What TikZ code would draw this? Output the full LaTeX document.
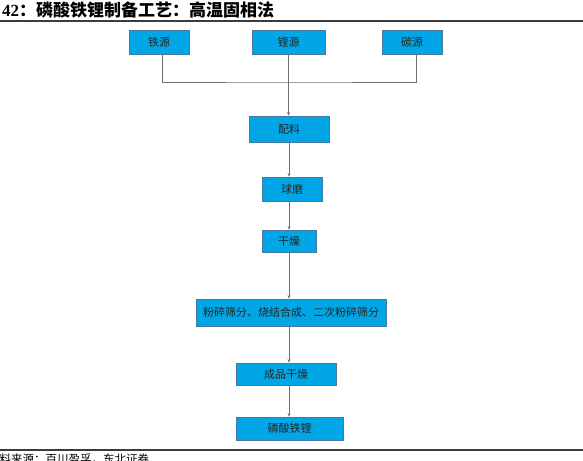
\documentclass[tikz,border=0pt]{standalone}
\usepackage{fontspec}
\setmainfont{Liberation Serif}
\newfontfamily\cjk{Noto Sans CJK SC}
\usetikzlibrary{arrows.meta,calc}
\definecolor{boxfill}{RGB}{0,166,230}
\definecolor{boxline}{RGB}{70,120,160}
\definecolor{conn}{RGB}{110,110,110}
\definecolor{rule}{RGB}{60,60,60}
\tikzset{
  x=1pt,y=-1pt,
  flowbox/.style={draw=boxline,line width=0.8pt,fill=boxfill,inner sep=0pt,
    font=\cjk\fontsize{11}{13}\selectfont,text=black!85},
  conline/.style={draw=conn,line width=0.9pt},
  arr/.style={conline,-{Stealth[length=3.5pt,width=3pt]}},
}
\begin{document}
\begin{tikzpicture}
\useasboundingbox (0,0) rectangle (583,460);
\clip (0,0) rectangle (583,460);
% title and rules
\node[anchor=west,inner sep=0pt] (title) at (2,10)
  {\bfseries\fontsize{17}{19}\selectfont 42{\cjk\bfseries ：磷酸铁锂制备工艺：高温固相法}};
\draw[rule,line width=1.1pt] (0,21) coordinate (r1a) -- (583,21) coordinate (r1b);
\draw[rule,line width=1.1pt] (0,450) coordinate (r2a) -- (583,450) coordinate (r2b);
\node[anchor=north west,inner sep=0pt,font=\cjk\fontsize{11.5}{13}\selectfont] (src) at (-12,454) {资料来源：百川盈孚，东北证券};
% boxes
\node[flowbox,minimum width=60,minimum height=24] (fe) at (159,42) {铁源};
\node[flowbox,minimum width=73,minimum height=24] (li) at (288.5,42) {锂源};
\node[flowbox,minimum width=60,minimum height=24] (c) at (412,42) {碳源};
\node[flowbox,minimum width=80,minimum height=26] (pl) at (289,129) {配料};
\node[flowbox,minimum width=60,minimum height=24] (qm) at (292,189) {球磨};
\node[flowbox,minimum width=54,minimum height=22] (gz) at (289,241) {干燥};
\node[flowbox,minimum width=190,minimum height=27] (fs) at (291,312.5) {粉碎筛分、烧结合成、二次粉碎筛分};
\node[flowbox,minimum width=100,minimum height=22] (cp) at (286,374) {成品干燥};
\node[flowbox,minimum width=107,minimum height=23] (lf) at (289.5,428.5) {磷酸铁锂};
% connectors
\coordinate (j) at (289,82);
\draw[conline] ([xshift=3pt]fe.south) |- (j) -| ([xshift=4pt]c.south);
\draw[arr] (li.south) -- (li.south |- pl.north);
\draw[arr] (pl.south) -- (pl.south |- qm.north);
\draw[arr] (pl.south |- qm.south) -- (pl.south |- gz.north);
\draw[arr] (gz.south) -- (gz.south |- fs.north);
\draw[arr] (gz.south |- fs.south) -- (gz.south |- cp.north);
\draw[arr] (gz.south |- cp.south) -- (gz.south |- lf.north);
\end{tikzpicture}
\end{document}
